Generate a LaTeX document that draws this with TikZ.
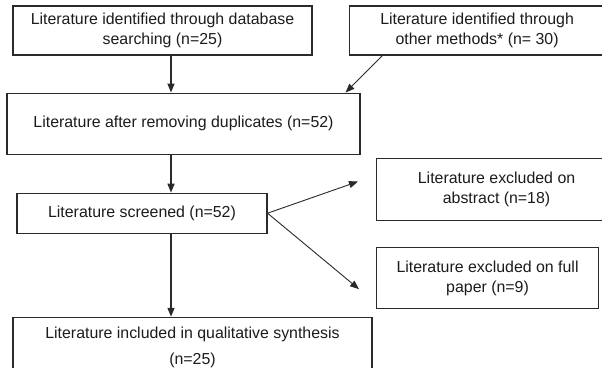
\documentclass[tikz,border=0pt]{standalone}
\usepackage{fontspec}
\setmainfont{Liberation Sans}
\usepackage{tikz}
\usetikzlibrary{arrows.meta,positioning}
\definecolor{boxline}{HTML}{2A2A2A}
\definecolor{boxtext}{HTML}{1C1C1C}
\tikzset{
  litbox/.style={
    rectangle, draw=boxline, line width=1.1pt,
    fill=white, align=center, inner sep=0pt, text=boxtext,
    font=\fontsize{15.9}{20}\selectfont
  },
  litarrow/.style={-{Triangle[length=9pt,width=7pt]}, line width=1.4pt, color=boxline},
  sidearrow/.style={-{Triangle[length=9pt,width=7pt]}, line width=0.9pt, color=boxline},
}
\begin{document}
\begin{tikzpicture}[x=1pt,y=-1pt]
  \useasboundingbox (0,0) rectangle (602,367);
  \clip (0,0) rectangle (602,367);
  \fill[white] (0,0) rectangle (602,367);

  \node[litbox, minimum width=299pt, minimum height=49pt] (dbsearch) at (162.5,30.5)
    {Literature identified through database\\searching (n=25)};
  \node[litbox, minimum width=256pt, minimum height=49pt, right=36pt of dbsearch] (othermeth)
    {Literature identified through\\other methods* (n= 30)};
  \node[litbox, minimum width=353pt, minimum height=61pt, below=37pt of dbsearch.south west, anchor=north west, xshift=-6pt] (dedup)
    {Literature after removing duplicates (n=52)};
  \node[litbox, minimum width=250pt, minimum height=40pt, below=38pt of dedup.south west, anchor=north west, xshift=10pt] (screened)
    {Literature screened (n=52)};
  \node[litbox, minimum width=359pt, minimum height=60pt, below=83pt of screened.south west, anchor=north west, xshift=-4pt] (included)
    {Literature included in qualitative synthesis\\[6pt](n=25)};
  \node[litbox, minimum width=240pt, minimum height=62pt, anchor=north west] (abstract) at (376,158)
    {Literature excluded on\\abstract (n=18)};
  \node[litbox, minimum width=222pt, minimum height=61pt, below=26pt of abstract.south west, anchor=north west] (fullpaper)
    {Literature excluded on full\\paper (n=9)};

  \coordinate (spine) at (171,0);
  \foreach \a/\b in {dbsearch/dedup,dedup/screened,screened/included}
    \draw[litarrow] (\a.south -| spine) -- (\b.north -| spine);

  \draw[sidearrow] ([xshift=34pt]othermeth.south west) -- ([xshift=-15pt]dedup.north east);
  \draw[sidearrow] (screened.east) -- ([xshift=-18pt,yshift=8pt]abstract.west);
  \draw[sidearrow] (screened.east) -- ([xshift=-17pt,yshift=-11pt]fullpaper.west);
\end{tikzpicture}
\end{document}
